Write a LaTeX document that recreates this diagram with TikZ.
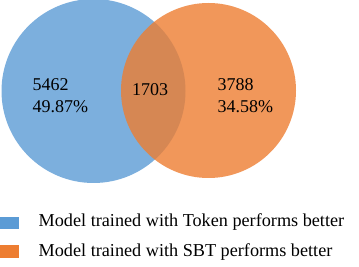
\documentclass[tikz,border=0pt]{standalone}
\usepackage{fontspec}
\setmainfont{Liberation Serif}
\definecolor{vblue}{HTML}{5B9BD5}
\definecolor{vorange}{HTML}{ED7D31}
\begin{document}
\begin{tikzpicture}[x=1pt,y=-1pt,
  set/.style={fill opacity=0.8,draw=none},
  lbl/.style={font=\fontsize{18}{22}\selectfont,align=left,inner sep=0pt},
  key/.style={minimum width=19pt,minimum height=12.5pt,inner sep=0pt,draw=none},
  keytext/.style={font=\fontsize{18.2}{21}\selectfont,anchor=west,inner sep=0pt}]
\useasboundingbox (0,0) rectangle (359,267);
\fill[set,vblue] (93.5,91) circle (92);
\fill[set,vorange] (208.5,90.5) circle (87.5);
\node[lbl,anchor=west] (a) at (32.5,96) {5462\\49.87\%};
\node[lbl] (c) at (150,89.5) {1703};
\node[lbl,anchor=west] (b) at (217.5,96) {3788\\34.58\%};
\node[key,fill=vblue,anchor=west] (k1) at (0,223) {};
\node[key,fill=vorange,anchor=west] (k2) at (0,251.5) {};
\node[keytext] (t1) at (38.5,222.5) {Model trained with Token performs better};
\node[keytext] (t2) at (38.5,252.5) {Model trained with SBT performs better};
\end{tikzpicture}
\end{document}
